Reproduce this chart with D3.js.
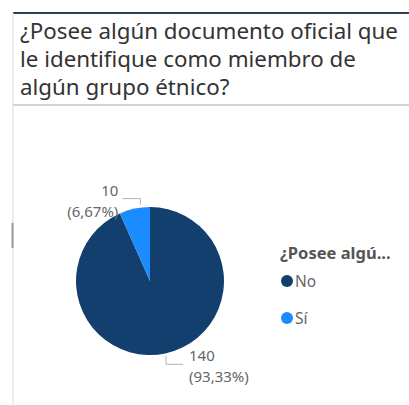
<!DOCTYPE html>
<html>
<head>
<meta charset="utf-8">
<script src="https://cdn.jsdelivr.net/npm/d3@7"></script>
<style>
  html, body { margin: 0; padding: 0; background: #fff; }
  svg { display: block; }
</style>
</head>
<body>
<svg width="409" height="405"></svg>
<script>
// datos
var titleLines = ["¿Posee algún documento oficial que", "le identifique como miembro de", "algún grupo étnico?"];
var legendTitle = "¿Posee algú...";
var categories = ["No", "Sí"];
var values = [140, 10];
var colors = ["#123F6E", "#1A8CFF"];

var svg = d3.select("svg");
var width = +svg.attr("width");
var height = +svg.attr("height");

// marco del visual
svg.append("line")
  .attr("x1", 13).attr("x2", width).attr("y1", 13).attr("y2", 13)
  .attr("stroke", "#2f4054").attr("stroke-width", 2);
svg.append("line")
  .attr("x1", 13).attr("x2", 13).attr("y1", 13).attr("y2", height)
  .attr("stroke", "#e6e6e6").attr("stroke-width", 1.5);
svg.append("line")
  .attr("x1", 12.5).attr("x2", 12.5).attr("y1", 223).attr("y2", 248)
  .attr("stroke", "#9a9a9a").attr("stroke-width", 2);
svg.append("line")
  .attr("x1", 13).attr("x2", width).attr("y1", 105).attr("y2", 105)
  .attr("stroke", "#d3d3d3").attr("stroke-width", 2);

// titulo
var title = svg.append("g")
  .selectAll("text")
  .data(titleLines)
  .enter()
  .append("text")
  .attr("x", 20)
  .attr("y", (d, i) => 39 + i * 28)
  .attr("font-family", "'Noto Sans', sans-serif")
  .attr("font-size", 18)
  .attr("fill", "#333333")
  .text((d) => d);

// ajustar tamaño para que la primera linea mida ~378px
var w0 = title.nodes()[0].getComputedTextLength();
title.attr("font-size", 18 * 378 / w0);

// pie
var cx = 150, cy = 281, r = 74;
var total = d3.sum(values);
var data = categories.map((c, i) => ({ cat: c, value: values[i], color: colors[i] }));

var pie = d3.pie().value((d) => d.value).sort(null);
var arc = d3.arc().innerRadius(0).outerRadius(r);
var arcs = pie(data);

var g = svg.append("g").attr("transform", "translate(" + cx + "," + cy + ")");
g.selectAll("path")
  .data(arcs)
  .enter()
  .append("path")
  .attr("d", arc)
  .attr("fill", (d) => d.data.color);

// etiquetas con lineas guia
var fmt = (v) => (v * 100).toFixed(2).replace(".", ",") + "%";
arcs.forEach(function (d) {
  var a = (d.startAngle + d.endAngle) / 2;
  var sx = Math.sin(a), sy = -Math.cos(a);
  var up = sy < 0;
  var right = sx > 0;
  // las porciones pequeñas llevan la guia algo mas cerca del borde
  var la = (d.endAngle - d.startAngle) < 0.5 ? d.startAngle + 0.7 * (d.endAngle - d.startAngle) : a;
  var p1 = [Math.sin(la) * (r + 3), -Math.cos(la) * (r + 3)];
  var elbow = [p1[0], p1[1] + (up ? -6 : 8)];
  var end = [elbow[0] + (right ? 17 : -18), elbow[1]];
  g.append("polyline")
    .attr("points", [p1, elbow, end].map((p) => p.join(",")).join(" "))
    .attr("fill", "none")
    .attr("stroke", "#b3b3b3")
    .attr("stroke-width", 1);
  var tx = end[0] + (right ? 6 : -4);
  var lab = g.append("text")
    .attr("x", tx)
    .attr("text-anchor", right ? "start" : "end")
    .attr("font-family", "'Noto Sans', sans-serif")
    .attr("font-size", 15)
    .attr("fill", "#666666");
  lab.append("tspan").attr("x", tx).attr("y", elbow[1] - 3).text(d.data.value);
  lab.append("tspan").attr("x", tx).attr("y", elbow[1] + 18).text("(" + fmt(d.data.value / total) + ")");
});

// leyenda
var legend = svg.append("g").attr("transform", "translate(280,0)");
var lt = legend.append("text")
  .attr("x", 0).attr("y", 259)
  .attr("font-family", "'Noto Sans', sans-serif")
  .attr("font-size", 15)
  .attr("font-weight", "bold")
  .attr("fill", "#555555")
  .text(legendTitle);
var lw = lt.node().getComputedTextLength();
lt.attr("font-size", Math.min(16.5, 15 * 122 / lw));

var items = legend.selectAll("g.item")
  .data(data)
  .enter()
  .append("g")
  .attr("class", "item")
  .attr("transform", (d, i) => "translate(0," + (281 + i * 37) + ")");
items.append("circle")
  .attr("cx", 7).attr("cy", 0).attr("r", 6)
  .attr("fill", (d) => d.color);
items.append("text")
  .attr("x", 15).attr("y", 5.5)
  .attr("font-family", "'Noto Sans', sans-serif")
  .attr("font-size", 15.5)
  .attr("fill", "#666666")
  .text((d) => d.cat);
</script>
</body>
</html>
